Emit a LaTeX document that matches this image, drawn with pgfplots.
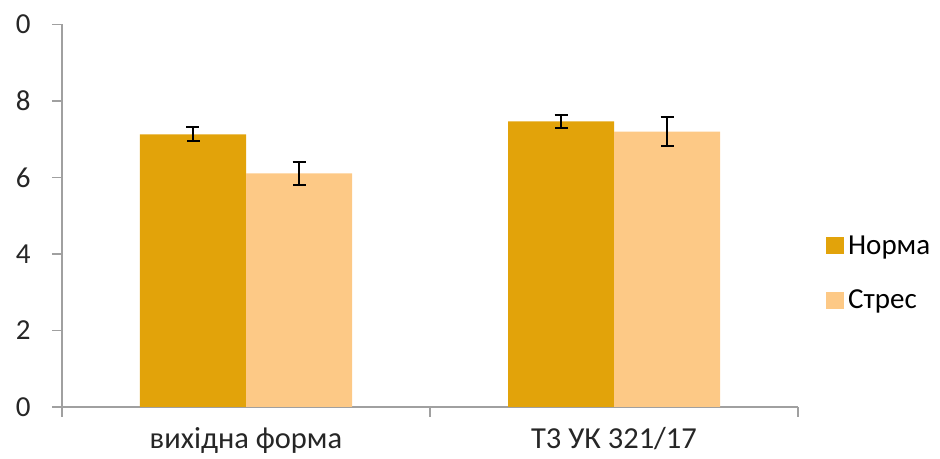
\documentclass[border=0pt]{standalone}
\usepackage{fontspec}
\setmainfont{Carlito}
\usepackage{pgfplots}
\pgfplotsset{compat=1.18}
\definecolor{norma}{HTML}{E2A30A}
\definecolor{stres}{HTML}{FDC986}
\definecolor{axgray}{HTML}{A0A0A0}

\begin{document}
\begin{tikzpicture}
\begin{axis}[
    name=ax,
    scale only axis, width=736pt, height=382.5pt,
    ybar=0pt, bar width=106pt,
    xmin=-0.5, xmax=1.5, ymin=0, ymax=10,
    xtick={-0.5,0.5,1.5},
    xticklabels={вихідна форма, Т3 УК 321/17},
    x tick label as interval,
    ytick={0,2,...,10},
    axis x line*=bottom, axis y line*=left,
    axis line style={axgray, line width=1.3pt, -},
    tick style={axgray, line width=1.3pt},
    tick align=outside, major tick length=10pt,
    font=\fontsize{29}{34}\selectfont,
    /pgf/number format/assume math mode=true,
    ticklabel style={text=black!85},
    xticklabel style={yshift=-7pt, font=\fontsize{30.5}{36}\selectfont},
    yticklabel style={xshift=-18pt},
    legend style={at={(1.038,0.35)}, anchor=west, draw=none, fill=none,
      font=\fontsize{29}{34}\selectfont, row sep=26pt, inner sep=0pt,
      nodes={inner sep=4pt}},
    legend cell align=left,
    error bars/error bar style={black, line width=2pt},
    error bars/error mark options={black, rotate=90, mark size=6.5pt, line width=2pt},
  ]
\addplot[fill=norma, draw=none,
  legend image code/.code={\fill[norma] (0pt,-8.5pt) rectangle (18pt,8.5pt);},
  error bars/.cd, y dir=both, y explicit]
  coordinates {(0,7.13) +- (0,0.18) (1,7.47) +- (0,0.17)};
\addplot[fill=stres, draw=none,
  legend image code/.code={\fill[stres] (0pt,-8.5pt) rectangle (18pt,8.5pt);},
  error bars/.cd, y dir=both, y explicit]
  coordinates {(0,6.11) +- (0,0.30) (1,7.20) +- (0,0.37)};
\legend{Норма, Стрес}
\end{axis}
% the reference crops the left part of the top label
\fill[white] ([xshift=-62pt,yshift=-20pt]ax.north west) rectangle ([xshift=-47pt,yshift=24.5pt]ax.north west);
\pgfresetboundingbox
\path[use as bounding box] ([xshift=-62pt,yshift=-52pt]ax.south west) rectangle ([xshift=142pt,yshift=24.5pt]ax.north east);
\end{tikzpicture}
\end{document}
